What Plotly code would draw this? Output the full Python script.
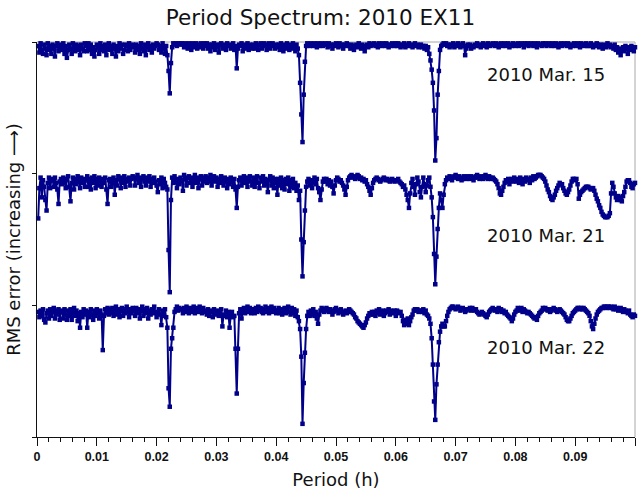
import numpy as np
import plotly.graph_objects as go

# Trial periods (hours), sampled every 0.0002 h
period = np.round(np.arange(1, 501) * 0.0002, 4)

# Relative RMS error of the fit (percent of each panel's range), one row per 0.004 h
rms_mar15 = [
    97, 92, 99, 94, 91, 98, 95, 90, 99, 94, 97, 91, 98, 95, 89, 97, 99, 93, 96, 98,
    94, 99, 91, 97, 88, 94, 98, 95, 91, 99, 96, 93, 98, 94, 97, 90, 98, 95, 93, 99,
    97, 93, 99, 94, 98, 91, 96, 89, 94, 98, 96, 91, 99, 94, 97, 93, 98, 90, 96, 99,
    94, 97, 91, 98, 95, 89, 97, 93, 99, 95, 98, 91, 94, 98, 97, 93, 99, 94, 97, 98,
    96, 92, 98, 94, 97, 91, 99, 95, 93, 98, 90, 96, 99, 94, 97, 92, 98, 95, 97, 99,
    98, 94, 97, 92, 99, 95, 91, 97, 90, 78, 61, 84, 96, 99, 98, 99, 97, 99, 98, 99,
    99, 98, 96, 99, 98, 95, 99, 97, 94, 99, 96, 98, 99, 95, 98, 96, 99, 98, 95, 99,
    97, 99, 95, 98, 93, 98, 96, 99, 94, 98, 97, 92, 98, 99, 95, 97, 98, 94, 99, 97,
    98, 95, 97, 99, 94, 97, 80, 95, 98, 97, 99, 93, 98, 95, 97, 99, 94, 98, 97, 95,
    98, 95, 99, 97, 94, 98, 99, 95, 97, 99, 98, 94, 97, 99, 95, 98, 99, 97, 95, 98,
    96, 98, 94, 99, 97, 93, 98, 95, 99, 97, 94, 98, 95, 99, 97, 93, 98, 95, 90, 69,
    45, 24, 60, 85, 97, 99, 98, 97, 99, 98, 97, 99, 98, 96, 99, 97, 98, 99, 97, 98,
    99, 98, 96, 99, 97, 98, 95, 98, 97, 99, 98, 96, 99, 97, 98, 95, 98, 97, 99, 98,
    97, 95, 98, 96, 94, 97, 98, 96, 99, 97, 95, 98, 96, 93, 97, 98, 96, 99, 97, 98,
    98, 99, 97, 98, 96, 99, 98, 97, 99, 98, 97, 99, 98, 96, 98, 97, 99, 98, 97, 99,
    97, 99, 98, 96, 98, 97, 99, 96, 98, 97, 99, 98, 97, 96, 98, 99, 97, 98, 96, 97,
    98, 96, 97, 95, 97, 94, 96, 91, 86, 79, 69, 48, 10, 27, 60, 78, 94, 97, 98, 99,
    98, 99, 97, 98, 96, 98, 97, 99, 96, 98, 97, 99, 98, 96, 97, 99, 97, 90, 95, 98,
    97, 98, 95, 97, 96, 98, 97, 99, 98, 97, 96, 98, 99, 97, 98, 96, 99, 98, 97, 98,
    99, 98, 97, 99, 98, 96, 98, 99, 97, 98, 99, 97, 98, 99, 96, 98, 97, 99, 98, 97,
    98, 99, 97, 98, 99, 98, 96, 99, 98, 99, 97, 98, 99, 98, 97, 99, 98, 96, 99, 98,
    98, 97, 99, 98, 99, 97, 98, 99, 98, 97, 99, 98, 97, 99, 98, 96, 98, 99, 97, 98,
    99, 98, 97, 99, 98, 96, 98, 97, 99, 98, 97, 99, 98, 96, 99, 98, 97, 98, 99, 97,
    97, 98, 99, 97, 96, 98, 97, 99, 98, 96, 98, 97, 95, 98, 97, 96, 99, 97, 98, 96,
    97, 95, 98, 94, 96, 92, 95, 90, 94, 96, 93, 97, 95, 91, 96, 94, 97, 95, 93, 96,
]

rms_mar21 = [
    66, 89, 97, 82, 95, 90, 80, 72, 93, 97, 89, 95, 96, 90, 97, 93, 88, 77, 94, 96,
    92, 97, 94, 89, 96, 98, 90, 79, 93, 97, 88, 96, 92, 98, 94, 89, 97, 93, 96, 90,
    95, 98, 90, 96, 88, 97, 93, 98, 89, 96, 91, 97, 94, 90, 96, 93, 97, 88, 77, 95,
    96, 90, 93, 97, 84, 95, 91, 98, 96, 89, 97, 93, 98, 90, 96, 94, 97, 91, 96, 98,
    97, 91, 96, 99, 93, 97, 90, 96, 98, 94, 91, 97, 94, 98, 90, 96, 93, 97, 94, 91,
    86, 95, 92, 97, 89, 96, 93, 90, 88, 42, 10, 80, 97, 93, 98, 94, 89, 96, 92, 97,
    95, 87, 99, 96, 91, 97, 98, 93, 97, 90, 96, 99, 93, 97, 89, 96, 98, 91, 97, 94,
    98, 93, 97, 94, 99, 91, 96, 98, 94, 97, 90, 96, 93, 98, 96, 91, 97, 94, 89, 96,
    92, 97, 94, 90, 96, 88, 74, 90, 95, 97, 91, 96, 98, 93, 97, 90, 96, 98, 94, 91,
    97, 90, 96, 98, 93, 89, 97, 94, 98, 91, 96, 93, 86, 95, 98, 91, 97, 89, 96, 93,
    84, 96, 91, 97, 89, 95, 88, 96, 92, 97, 87, 95, 90, 96, 89, 93, 87, 91, 80, 87,
    50, 22, 48, 72, 90, 94, 96, 91, 95, 89, 94, 97, 92, 96, 89, 86, 80, 88, 94, 96,
    94, 96, 92, 95, 91, 94, 90, 85, 91, 95, 97, 96, 94, 95, 93, 91, 88, 84, 90, 95,
    97, 98, 99, 97, 98, 96, 97, 99, 98, 96, 97, 95, 96, 94, 95, 92, 90, 87, 84, 89,
    93, 95, 96, 97, 96, 95, 94, 95, 96, 97, 96, 95, 96, 95, 94, 95, 96, 95, 94, 95,
    95, 96, 94, 93, 92, 90, 91, 88, 84, 80, 74, 85, 93, 96, 90, 84, 92, 97, 94, 86,
    82, 90, 97, 92, 86, 91, 95, 97, 90, 82, 67, 39, 16, 37, 58, 74, 85, 80, 74, 84,
    92, 95, 97, 96, 98, 97, 95, 97, 98, 99, 97, 96, 98, 97, 95, 96, 98, 97, 96, 98,
    97, 96, 98, 97, 95, 97, 98, 99, 97, 96, 98, 97, 96, 98, 99, 97, 96, 98, 97, 96,
    97, 96, 95, 94, 92, 89, 85, 84, 87, 90, 93, 95, 94, 96, 92, 95, 96, 94, 97, 95,
    94, 96, 93, 97, 95, 92, 96, 94, 97, 95, 96, 93, 97, 95, 98, 96, 97, 98, 99, 99,
    99, 98, 97, 96, 94, 91, 88, 86, 83, 81, 80, 82, 84, 87, 89, 91, 93, 92, 92, 89,
    87, 85, 84, 86, 88, 91, 94, 96, 96, 95, 96, 92, 81, 84, 86, 87, 88, 89, 90, 90,
    90, 89, 88, 89, 89, 87, 84, 81, 79, 76, 74, 71, 69, 68, 67, 67, 67, 68, 70, 85,
    93, 90, 85, 82, 80, 83, 82, 80, 79, 83, 86, 90, 94, 95, 95, 93, 90, 89, 92, 93,
]

rms_mar22 = [
    95, 91, 96, 92, 97, 89, 87, 94, 96, 90, 97, 92, 95, 98, 90, 96, 93, 97, 89, 95,
    96, 90, 97, 93, 89, 96, 92, 97, 89, 95, 98, 92, 96, 88, 94, 83, 95, 91, 97, 93,
    96, 83, 95, 91, 97, 93, 89, 96, 92, 97, 94, 90, 96, 93, 66, 92, 97, 94, 98, 93,
    97, 94, 98, 92, 96, 99, 93, 97, 91, 96, 98, 92, 97, 94, 99, 95, 91, 97, 94, 98,
    96, 92, 98, 94, 97, 90, 96, 99, 92, 97, 94, 98, 90, 96, 93, 97, 94, 99, 95, 91,
    95, 97, 93, 85, 96, 92, 97, 91, 83, 37, 23, 67, 75, 83, 95, 97, 99, 96, 98, 97,
    97, 94, 98, 95, 99, 96, 94, 98, 95, 97, 99, 94, 97, 98, 95, 99, 96, 94, 98, 95,
    96, 93, 97, 92, 95, 96, 91, 97, 94, 93, 96, 92, 95, 97, 84, 93, 92, 96, 91, 95,
    83, 92, 95, 91, 92, 67, 33, 67, 94, 97, 90, 96, 98, 94, 97, 99, 95, 98, 94, 97,
    97, 94, 98, 95, 99, 96, 98, 95, 94, 97, 99, 95, 98, 94, 97, 99, 95, 98, 96, 94,
    96, 98, 94, 97, 93, 96, 98, 94, 97, 99, 95, 93, 98, 94, 97, 92, 96, 91, 88, 82,
    61, 10, 41, 64, 82, 92, 95, 92, 96, 93, 97, 92, 95, 90, 86, 93, 96, 98, 97, 95,
    96, 98, 97, 95, 97, 96, 93, 95, 97, 98, 96, 94, 96, 97, 95, 93, 95, 96, 94, 95,
    97, 96, 95, 94, 93, 91, 90, 88, 87, 86, 85, 84, 83, 85, 87, 90, 92, 94, 93, 95,
    93, 95, 92, 96, 94, 97, 93, 95, 96, 92, 94, 96, 95, 97, 93, 96, 95, 94, 96, 92,
    96, 95, 94, 95, 92, 88, 85, 89, 86, 90, 85, 88, 91, 93, 96, 97, 96, 97, 95, 96,
    96, 95, 97, 94, 96, 93, 92, 90, 86, 75, 55, 27, 13, 40, 55, 72, 80, 84, 86, 84,
    84, 88, 92, 95, 97, 98, 99, 99, 98, 97, 98, 99, 98, 96, 97, 98, 97, 95, 96, 97,
    97, 98, 96, 98, 97, 96, 97, 95, 94, 93, 94, 95, 94, 93, 92, 91, 93, 95, 96, 97,
    98, 97, 96, 97, 95, 98, 96, 97, 95, 96, 94, 95, 93, 92, 91, 90, 88, 90, 93, 95,
    96, 98, 97, 96, 98, 95, 97, 96, 95, 94, 95, 94, 93, 92, 91, 90, 91, 89, 92, 94,
    95, 96, 98, 97, 98, 97, 96, 97, 95, 96, 97, 98, 97, 96, 95, 96, 97, 96, 95, 94,
    93, 91, 89, 88, 88, 90, 92, 94, 95, 96, 97, 98, 98, 97, 98, 97, 98, 97, 96, 95,
    94, 92, 88, 84, 82, 86, 90, 93, 95, 96, 97, 98, 98, 99, 99, 98, 99, 99, 98, 99,
    98, 97, 99, 97, 98, 96, 97, 98, 96, 95, 97, 96, 95, 94, 96, 93, 92, 91, 93, 92,
]

nights = ["2010 Mar. 15", "2010 Mar. 21", "2010 Mar. 22"]
series = [rms_mar15, rms_mar21, rms_mar22]
panel_offset = [2, 1, 0]
label_y = [2.753, 1.531, 0.683]

navy = "#00008b"
ink = "#111111"
fig = go.Figure()
for name, vals, off in zip(nights, series, panel_offset):
    fig.add_trace(go.Scatter(
        x=period,
        y=off + np.array(vals) / 100.0,
        mode="lines+markers",
        name=name,
        line=dict(color=navy, width=2),
        marker=dict(symbol="square", size=4.5, color=navy),
        cliponaxis=False,
        showlegend=False,
    ))

for name, ly in zip(nights, label_y):
    fig.add_annotation(
        x=0.0953, y=ly, xref="x", yref="y", text=name, showarrow=False,
        xanchor="right", yanchor="middle",
        font=dict(family="DejaVu Sans", size=18, color=ink),
    )

# light frame on the top and right edges of the plot area
fig.add_shape(type="line", xref="paper", yref="paper", x0=0, x1=1, y0=1, y1=1,
              line=dict(color="#a8a8a8", width=1), layer="below")
fig.add_shape(type="line", xref="paper", yref="paper", x0=1, x1=1, y0=0, y1=1,
              line=dict(color="#a8a8a8", width=1), layer="below")

fig.update_layout(
    width=641, height=493,
    margin=dict(l=37, r=6, t=42, b=50),
    paper_bgcolor="white", plot_bgcolor="white",
    title=dict(text="Period Spectrum: 2010 EX11", x=0.5, xanchor="center",
               xref="container", y=1 - 17 / 493, yanchor="middle",
               font=dict(family="DejaVu Sans", size=21.5, color=ink)),
    xaxis=dict(
        range=[0, 0.1], dtick=0.01, tick0=0,
        showgrid=False, zeroline=False,
        showline=True, linecolor=ink, linewidth=1,
        ticks="outside", ticklen=8, tickcolor=ink,
        minor=dict(dtick=0.002, ticks="outside", ticklen=4, tickcolor=ink, showgrid=False),
        tickfont=dict(family="Liberation Sans", size=12.5, color=ink, weight="bold"),
        title=dict(text="Period (h)", standoff=10,
                   font=dict(family="DejaVu Sans", size=18, color=ink)),
    ),
    yaxis=dict(
        range=[0, 3], tickvals=[0, 1, 2, 3], showticklabels=False,
        showgrid=False, zeroline=False,
        showline=True, linecolor=ink, linewidth=1,
        ticks="outside", ticklen=4, tickcolor=ink,
        title=dict(text="RMS error (increasing \u27f6)", standoff=6,
                   font=dict(family="DejaVu Sans", size=18, color=ink)),
    ),
)

fig.write_html("out.html")
